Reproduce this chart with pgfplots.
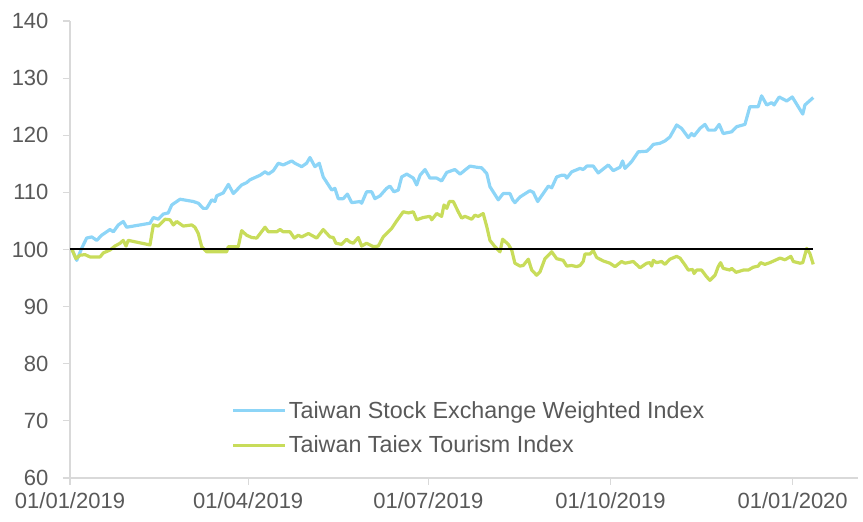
\documentclass[border=0pt]{standalone}
\usepackage{pgfplots}
\pgfplotsset{compat=1.18}
\usepackage{fontspec}
\setmainfont{Liberation Sans}
\definecolor{twblue}{HTML}{8DD5F7}
\definecolor{twgreen}{HTML}{C8DC5A}
\definecolor{axgray}{HTML}{D9D9D9}
\definecolor{txtgray}{HTML}{595959}
\begin{document}
\begin{tikzpicture}
\path[use as bounding box] (-70pt,-44pt) rectangle (793pt,478pt);
\begin{axis}[
  scale only axis,
  width=788pt, height=457pt,
  xmin=0, xmax=398,
  ymin=60, ymax=140,
  axis x line*=bottom, axis y line*=left,
  axis line style={draw=axgray, line width=1.4pt, -},
  xtick={0,90,181,273,365},
  xticklabels={01/01/2019,01/04/2019,01/07/2019,01/10/2019,01/01/2020},
  ytick={60,70,...,140},
  tick align=outside,
  major tick length=7pt,
  tick style={draw=axgray, line width=1.2pt},
  ticklabel style={font=\fontsize{22}{26}\selectfont, text=txtgray},
  /pgf/number format/assume math mode=true,
  yticklabel style={xshift=-11pt},
  xticklabel style={yshift=-4pt},
  legend cell align=left,
  legend style={at={(0.205,0.172)}, anchor=north west, draw=none, fill=none,
    font=\fontsize{23.3}{27}\selectfont, text=txtgray, row sep=12pt, inner sep=0pt},
  legend image code/.code={\draw[#1, line width=3.2pt] (0pt,0pt) -- (52pt,0pt);},
]
\addplot[twblue, line width=3.2pt, line join=round] coordinates {
(1,100) (3.4,98.1) (5.9,100.2) (8.4,102) (11.0,102.2) (13.5,101.6) (16.0,102.5)
(20.2,103.5) (21.9,103.1) (24.4,104.3) (26.9,104.9) (28.6,103.9) (40.4,104.6)
(42.1,105.6) (44.6,105.3) (47.1,106.2) (49.6,106.4) (51.4,107.8) (55.6,108.8)
(62.3,108.4) (64.8,108.1) (67.3,107.2) (69.0,107.2) (71.6,108.7) (73.2,108.4)
(74.1,109.4) (77.4,109.9) (80.0,111.4) (82.5,109.8) (84.2,110.4) (86.7,111.3)
(89.2,111.7) (90.9,112.2) (96.0,113.0) (98.5,113.6) (100.2,113.2) (102.7,113.8)
(105.2,115.1) (107.7,114.8) (112.0,115.5) (113.6,115.1) (117.0,114.5) (119.5,115.1)
(121.2,116.1) (123.7,114.5) (125.9,115.1) (127.9,112.7) (132.2,110.4) (133.8,110.7)
(135.5,108.9) (138.0,108.9) (140.1,109.7) (142.3,108.2) (146.5,108.4) (147.3,108.1)
(149.8,110.1) (152.4,110.1) (154.0,108.9) (156.6,109.4) (159.9,110.7) (161.6,111.1)
(163.6,110.1) (165.8,110.4) (167.5,112.7) (170.1,113.2) (173.4,112.5) (175.1,111.3)
(176.8,113.0) (179.3,114.0) (181.8,112.5) (185.2,112.5) (187.7,112.0) (190.3,113.5)
(194.4,114.0) (197.0,113.2) (202.0,114.6) (205.4,114.4) (207.9,114.3) (210.5,113.3)
(212.1,111.0) (216.3,108.7) (218.8,109.8) (222.2,109.8) (223.6,108.7) (224.7,108.2)
(227.3,109.2) (232.3,110.3) (234.0,110.0) (236.2,108.4) (239.0,109.8) (241.6,111.1)
(243.3,110.8) (245.8,112.7) (248.3,113.0) (250.0,113.0) (250.9,112.5) (253.4,113.6)
(257.6,114.2) (259.2,114.0) (261.0,114.6) (264.3,114.6) (266.8,113.4) (271.9,114.8)
(274.4,113.8) (277.8,114.4) (279.1,115.5) (280.3,114.2) (283.7,115.4) (287.0,117.1)
(291.3,117.2) (292.9,117.7) (294.6,118.4) (298.0,118.6) (300.5,119.0) (303.0,119.7)
(306.4,121.8) (308.9,121.2) (312.3,119.6) (314.0,120.3) (315.2,119.9) (318.2,121.2)
(320.7,121.9) (322.4,120.9) (325.8,120.9) (327.9,121.9) (329.9,120.3) (334.2,120.6)
(336.7,121.5) (340.9,121.9) (343.4,125.0) (347.6,125.0) (349.3,126.9) (351.9,125.3)
(354.4,125.7) (355.6,125.3) (358.2,126.7) (362.0,126.0) (364.8,126.7) (367.8,125.0)
(370.1,123.7) (371.2,125.3) (375.4,126.6)
};
\addlegendentry{Taiwan Stock Exchange Weighted Index}
\addplot[twgreen, line width=3.2pt, line join=round] coordinates {
(1,100) (3.0,98.4) (5.1,99.0) (7.6,99.1) (10.1,98.7) (15.2,98.7) (16.8,99.4)
(20.2,99.9) (22.7,100.6) (25.3,101.1) (26.9,101.6) (28.3,100.6) (29.4,101.6)
(40.4,100.8) (42.1,104.3) (44.6,104.1) (48.0,105.3) (50.5,105.2) (52.2,104.3)
(53.9,104.9) (57.2,104.1) (61.5,104.3) (63.1,103.9) (64.8,102.8) (66.5,100.5)
(69.0,99.6) (79.1,99.6) (80.0,100.5) (85.0,100.5) (86.7,103.3) (89.2,102.5)
(91.8,102.1) (94.3,102.0) (98.5,103.9) (100.2,103.1) (104.4,103.1) (106.1,103.5)
(107.7,103.1) (111.1,103.1) (113.3,102.0) (115.3,102.5) (117.0,102.2) (120.4,102.8)
(124.6,102.0) (127.9,103.5) (131.3,102.2) (133.0,102.1) (134.3,101.1) (137.2,100.9)
(139.7,101.8) (141.4,101.3) (143.1,101.1) (145.6,102.1) (147.3,100.6) (149.8,101.1)
(153.2,100.5) (155.7,100.6) (158.2,102.2) (159.9,102.8) (162.5,103.7) (165.0,105.0)
(168.3,106.6) (170.9,106.4) (173.4,106.6) (175.1,105.2) (178.4,105.6) (181.8,105.8)
(182.7,105.2) (185.2,106.3) (187.7,105.8) (188.9,107.8) (190.3,107.2) (191.6,108.4)
(193.6,108.4) (196.1,106.6) (197.8,105.5) (199.5,105.8) (202.9,105.3) (204.5,106.0)
(206.2,105.8) (208.7,106.3) (210.5,104.0) (212.1,101.6) (214.6,100.5) (217.2,99.6)
(218.5,101.8) (221.4,100.9) (223.1,99.9) (224.7,97.6) (227.3,97.1) (228.9,97.2)
(231.5,98.3) (233.2,96.4) (235.7,95.5) (237.4,96.1) (239.9,98.4) (243.3,99.6)
(245.8,98.4) (249.1,98.1) (250.9,97.1) (253.4,97.2) (255.9,97.0) (257.6,97.2)
(259.2,97.9) (260.1,99.2) (262.6,99.2) (264.3,99.8) (266.0,98.6) (269.3,98.0)
(272.7,97.6) (275.3,97.0) (278.6,97.9) (280.3,97.6) (284.5,97.9) (287.9,96.8)
(291.3,97.6) (292.9,97.7) (293.8,97.1) (294.6,98.1) (296.3,97.7) (298.8,97.9)
(300.5,97.4) (303.0,98.3) (306.4,98.8) (308.1,98.5) (310.6,97.3) (312.3,96.4)
(314.5,96.5) (315.2,95.8) (316.5,96.4) (319.0,96.4) (321.6,95.2) (323.2,94.6)
(325.8,95.5) (327.4,97.0) (328.6,97.7) (329.9,96.7) (333.3,96.4) (334.2,96.7)
(336.4,96.0) (340.1,96.4) (342.6,96.4) (345.1,96.9) (347.6,97.1) (348.8,97.7)
(351.0,97.4) (353.5,97.7) (356.1,98.1) (358.6,98.5) (361.1,98.2) (364.1,98.8)
(365.3,97.9) (368.7,97.6) (370.1,97.7) (372.1,100.2) (373.7,99.3) (375.4,97.4)
};
\addlegendentry{Taiwan Taiex Tourism Index}
\addplot[black, line width=2pt, forget plot] coordinates {(0,100) (375.5,100)};
\end{axis}
\end{tikzpicture}
\end{document}
